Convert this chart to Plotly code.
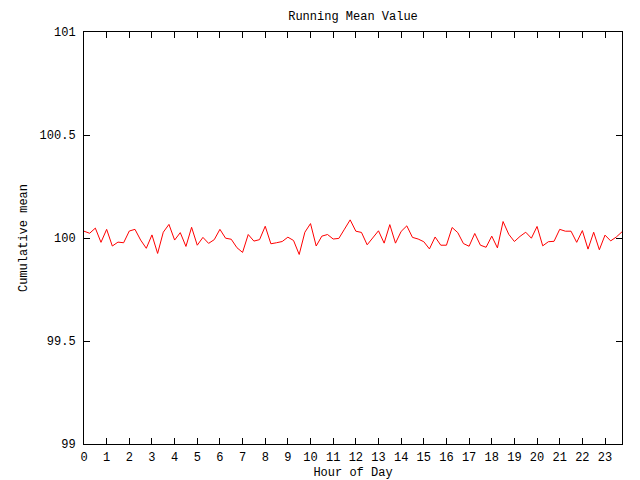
import plotly.graph_objects as go

# Data: running mean sampled every 15 minutes (hour of day)
hours = [i * 0.25 for i in range(96)]
deviation = [
    0.033, 0.023, 0.048, -0.021, 0.042, -0.039, -0.020, -0.023, 0.034, 0.042,
    -0.010, -0.050, 0.015, -0.075, 0.028, 0.066, -0.010, 0.026, -0.041, 0.052,
    -0.035, 0.003, -0.026, -0.008, 0.042, -0.001, -0.006, -0.047, -0.070, 0.017,
    -0.015, -0.008, 0.057, -0.028, -0.023, -0.017, 0.004, -0.012, -0.080, 0.028,
    0.070, -0.039, 0.009, 0.017, -0.005, -0.002, 0.043, 0.088, 0.033, 0.027,
    -0.033, 0.004, 0.035, -0.025, 0.065, -0.025, 0.032, 0.059, 0.003, -0.005,
    -0.018, -0.053, 0.005, -0.035, -0.035, 0.051, 0.026, -0.027, -0.040, 0.022,
    -0.035, -0.045, 0.009, -0.048, 0.080, 0.018, -0.017, 0.008, 0.028, -0.001,
    0.056, -0.038, -0.018, -0.016, 0.042, 0.033, 0.033, -0.021, 0.036, -0.054,
    0.028, -0.057, 0.014, -0.014, 0.005, 0.030,
]
running_mean = [100 + d for d in deviation]

x_ticks = list(range(24))
y_ticks = [99, 99.5, 100, 100.5, 101]
y_tick_text = ["99", "99.5", "100", "100.5", "101"]

FONT = "Liberation Mono"

fig = go.Figure()
fig.add_trace(go.Scatter(
    x=hours, y=running_mean, mode="lines",
    line=dict(color="#ff0000", width=1),
    showlegend=False,
))

fig.update_layout(
    width=640, height=480,
    margin=dict(l=84, r=18, t=32, b=36),
    paper_bgcolor="white", plot_bgcolor="white",
    font=dict(family=FONT, size=12, color="black"),
    title=dict(text="Running Mean Value", x=353 / 640, xanchor="center",
               y=1 - 16 / 480, yanchor="middle", font=dict(family=FONT, size=12)),
)

fig.update_xaxes(
    range=[0, 23.75], tickmode="array", tickvals=x_ticks,
    ticktext=[str(t) for t in x_ticks],
    ticks="inside", ticklen=6, tickcolor="black", tickwidth=1,
    showline=True, linecolor="black", linewidth=1, mirror="ticks",
    showgrid=False, zeroline=False, automargin=False,
    tickfont=dict(family=FONT, size=12), ticklabelstandoff=2,
    title=dict(text="Hour of Day", font=dict(family=FONT, size=12), standoff=4),
)
fig.update_yaxes(
    range=[99, 101], tickmode="array", tickvals=y_ticks, ticktext=y_tick_text,
    ticks="inside", ticklen=6, tickcolor="black", tickwidth=1,
    showline=True, linecolor="black", linewidth=1, mirror="ticks",
    showgrid=False, zeroline=False, automargin=False,
    tickfont=dict(family=FONT, size=12), ticklabelstandoff=5,
    title=dict(text="Cumulative mean", font=dict(family=FONT, size=12), standoff=9),
)

fig.write_html("out.html")
